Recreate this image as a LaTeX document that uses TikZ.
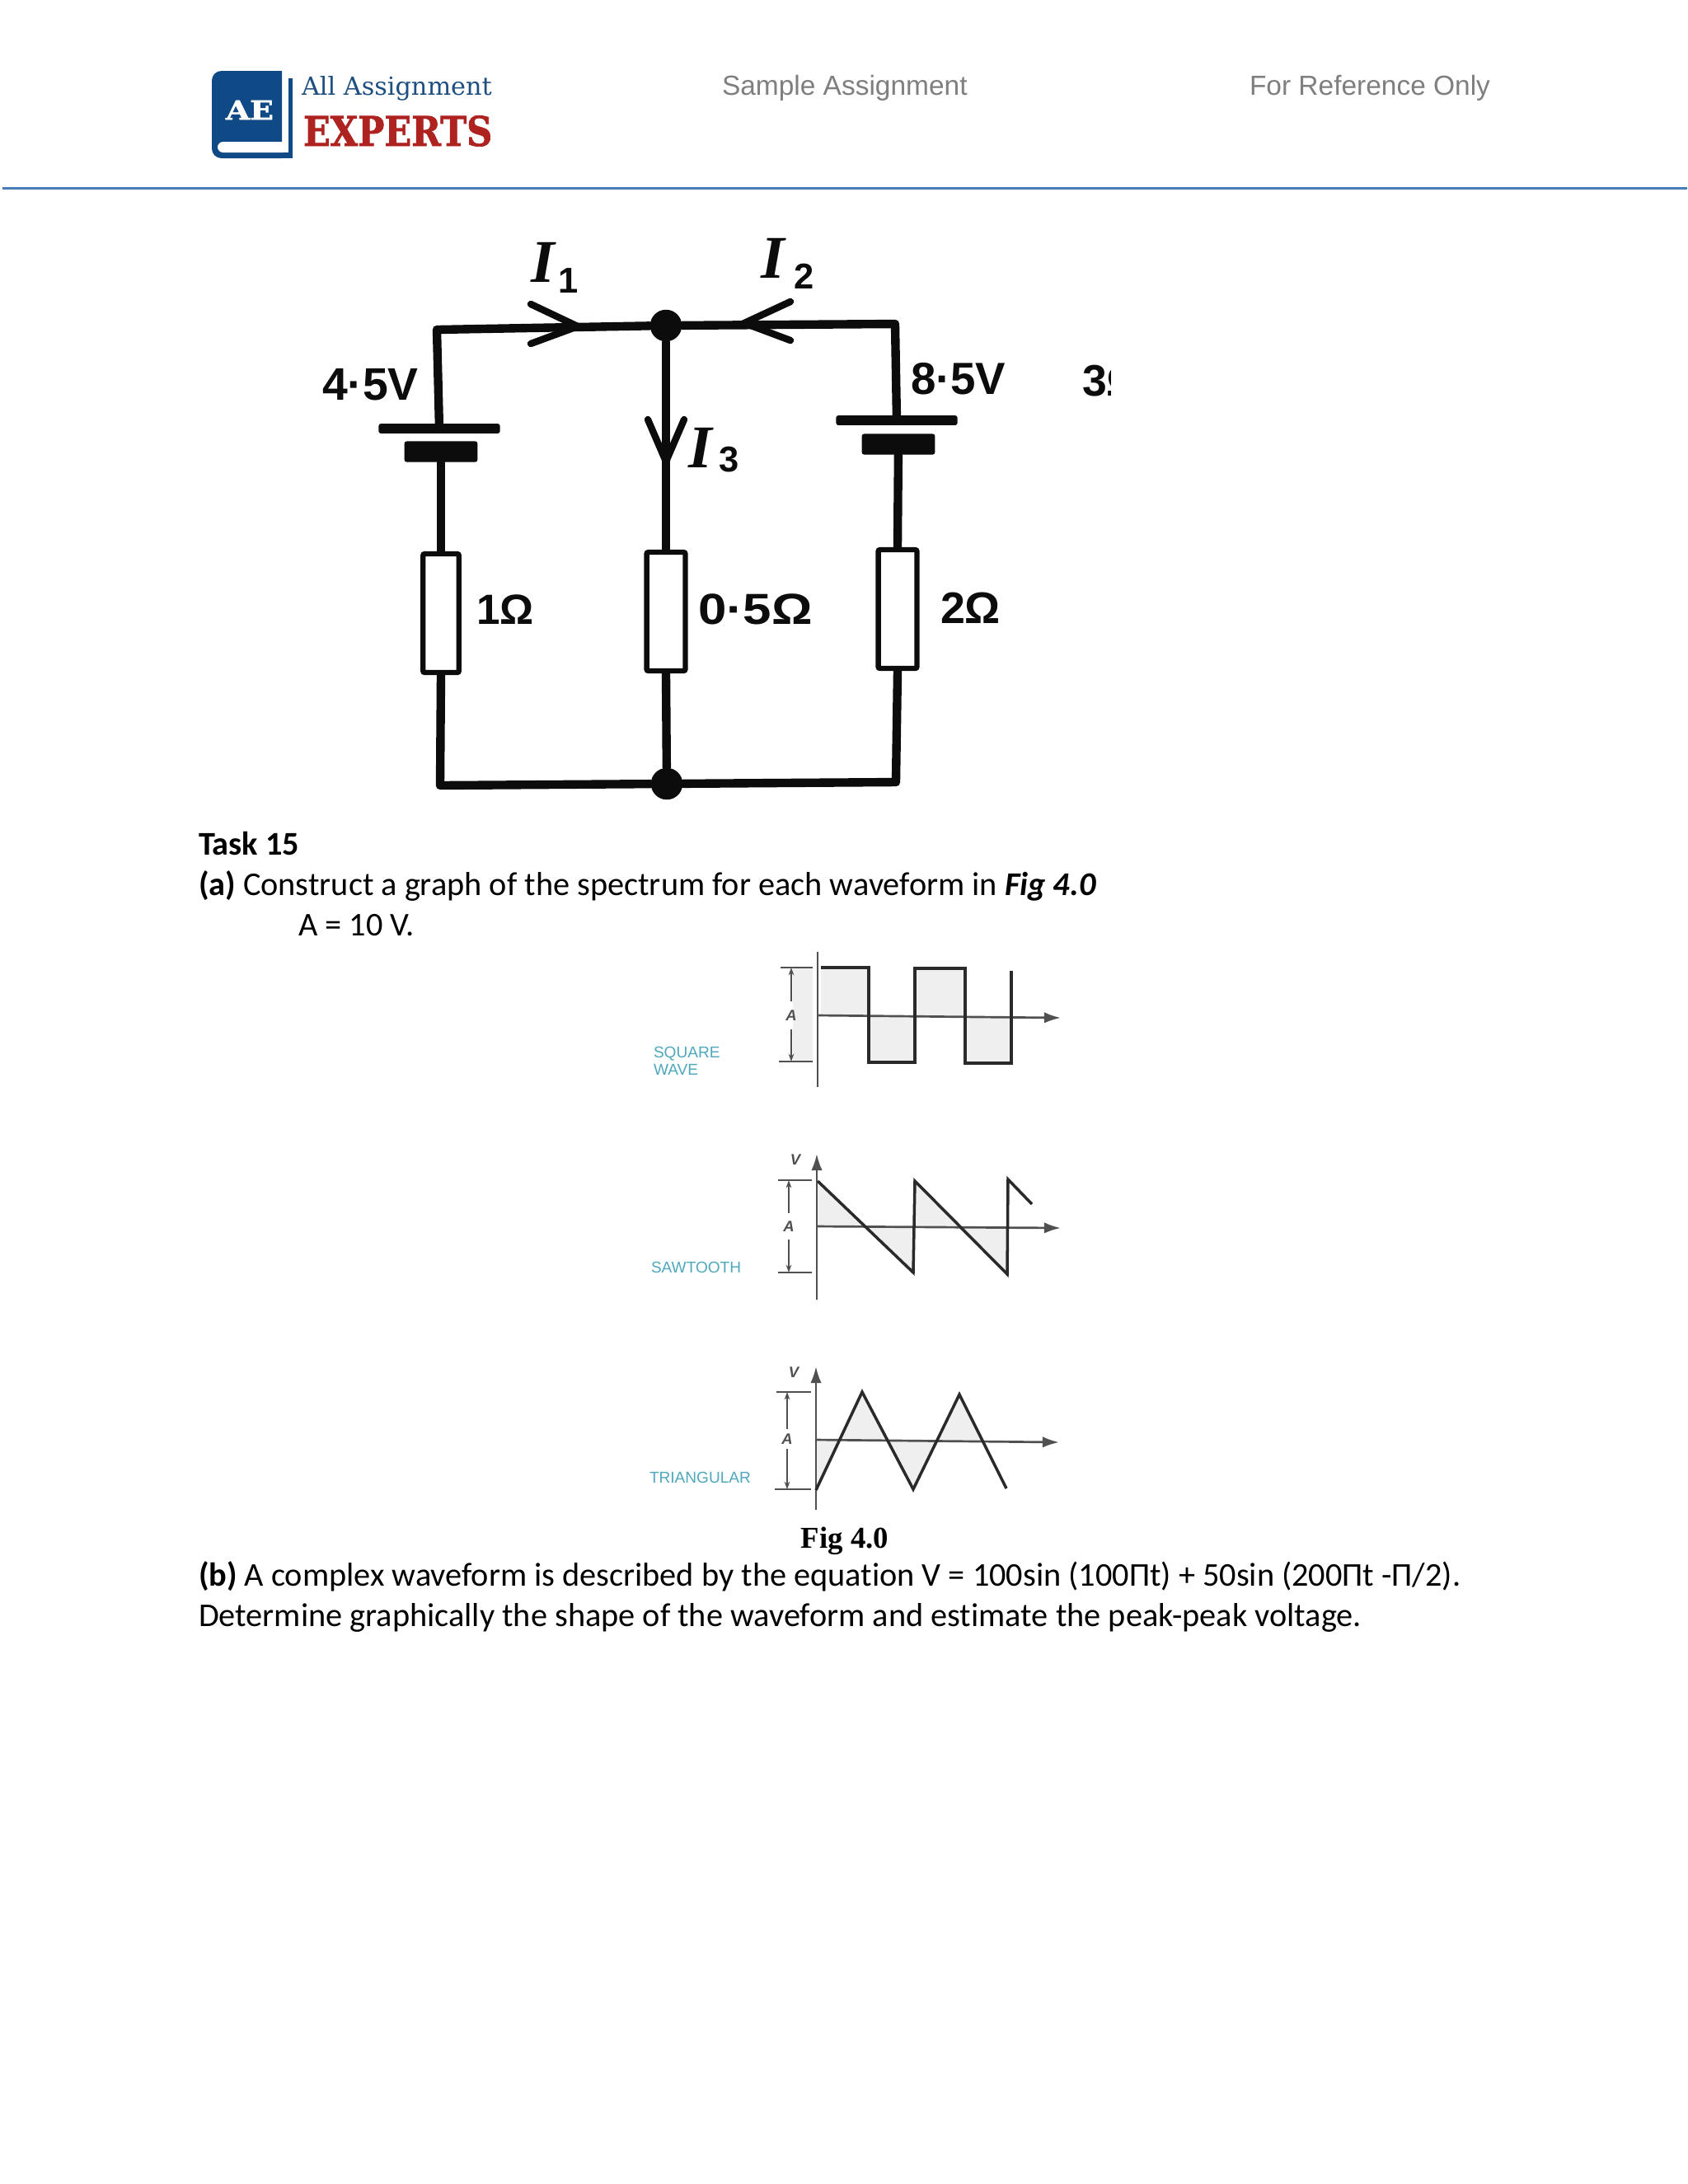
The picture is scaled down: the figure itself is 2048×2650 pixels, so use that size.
\documentclass[tikz,border=0pt]{standalone}
\usepackage{fontspec}
\usepackage{graphicx}
\usetikzlibrary{arrows.meta}
\setmainfont[Ligatures=NoCommon]{Carlito}
\newfontfamily\hdrfont{Liberation Sans}
\newfontfamily\capfont{Liberation Serif}
\newfontfamily\slabfont{DejaVu Serif}
\newfontfamily\heavyslab[BoldFeatures={FakeBold=1.5}]{DejaVu Serif}
\definecolor{rulebl}{HTML}{4A7DB8}
\definecolor{bookbl}{HTML}{0F4A86}
\definecolor{ttlbl}{HTML}{1F4F80}
\definecolor{exred}{HTML}{AE2320}
\definecolor{hdrgr}{HTML}{7F7F7F}
\definecolor{tealtx}{HTML}{4FA8BC}
\definecolor{shade}{HTML}{EFEFEF}
\definecolor{ink}{HTML}{0C0C0C}
\definecolor{axisc}{HTML}{505050}
\definecolor{wavec}{HTML}{2A2A2A}
\tikzset{
  txt/.style={anchor=base west,inner sep=0pt,outer sep=0pt},
  bodytx/.style={txt,text=black,font=\fontsize{12.04}{14}\selectfont},
  hdrtx/.style={txt,text=hdrgr,font=\hdrfont\fontsize{10}{12}\selectfont},
  wire/.style={draw=ink,line width=3.1pt,line join=round,line cap=round},
  dotj/.style={circle,fill=ink,inner sep=0pt,minimum size=11.5pt},
  resbox/.style={draw=ink,fill=white,line width=1.9pt,rectangle,inner sep=0pt,rounded corners=0.6pt},
  plate/.style={fill=ink,rectangle,inner sep=0pt,rounded corners=0.8pt},
  vee/.style={draw=ink,line width=2.5pt,line join=miter,line cap=round},
  cirlab/.style={txt,text=ink,font=\hdrfont\bfseries\fontsize{16}{18}\selectfont},
  curlab/.style={txt,text=ink,font=\capfont\bfseries\itshape\fontsize{22}{24}\selectfont},
  wavelab/.style={txt,text=tealtx,font=\hdrfont\fontsize{5.7}{7}\selectfont},
  dimlab/.style={inner sep=0pt,text=axisc,font=\hdrfont\bfseries\itshape\fontsize{5.5}{6}\selectfont},
  axisl/.style={draw=axisc,line width=0.8pt},
  axisv/.style={axisl,-{Latex[length=6pt,width=4pt]}},
  dimarr/.style={draw=axisc,line width=0.5pt,-{Stealth[length=2.8pt,width=2pt]}},
  ticl/.style={draw=axisc,line width=0.55pt},
  wavel/.style={draw=wavec,line width=1.05pt,line join=miter},
  shd/.style={fill=shade,draw=none}
}
\newcommand{\subd}[3]{\raisebox{#1}{\hdrfont\bfseries\upshape\fontsize{13}{14}\selectfont\hspace{#2}#3}}
\begin{document}
\begin{tikzpicture}[x=0.2988pt,y=-0.2988pt]
\useasboundingbox (0,0) rectangle (2048,2650);
\fill[white] (0,0) rectangle (2048,2650);

% ---------- header
\fill[bookbl,rounded corners=3.5pt] (342,192) -- (257,192) -- (257,86) [sharp corners] -- (342,86) -- cycle;
\fill[bookbl] (300,185) rectangle (355,192);
\fill[bookbl] (350,95) rectangle (355,192);
\fill[white,rounded corners=2pt] (350,172) -- (264,172) -- (264,185) -- (350,185) -- cycle;
\node[txt,text=white,font=\heavyslab\bfseries] (ae) at (274,145) {\resizebox{17.3pt}{6.9pt}{AE}};
\node[txt,text=ttlbl,font=\slabfont] (allas) at (366,115) {\resizebox{69pt}{!}{All Assignment}};
\node[txt,text=exred,font=\heavyslab\bfseries] (exp) at (368,177) {\resizebox{68.5pt}{11pt}{EXPERTS}};
\node[hdrtx] (samp) at (876,115) {Sample Assignment};
\node[hdrtx] (refo) at (1516,115) {For Reference Only};
\coordinate (rl) at (3,228);
\coordinate (rr) at (2047,228);
\draw[rulebl,line width=0.9pt] (rl) -- (rr);

% ---------- circuit
\coordinate (tl) at (530,400);
\coordinate (tr) at (1086,393);
\coordinate (bl) at (534,953);
\coordinate (br) at (1087,949);
\node[dotj] (jt) at (808,395) {};
\node[dotj] (jb) at (809,951) {};
\node[resbox,minimum width=13pt,minimum height=43pt] (r1) at (535,744) {};
\node[resbox,minimum width=14pt,minimum height=43pt] (r2) at (808,742) {};
\node[resbox,minimum width=14pt,minimum height=43pt] (r3) at (1089,739) {};
\node[plate,minimum width=44pt,minimum height=3.5pt] (b1a) at (533,520) {};
\node[plate,minimum width=26.5pt,minimum height=7.5pt] (b1b) at (535,548) {};
\node[plate,minimum width=44pt,minimum height=3.5pt] (b3a) at (1088,510) {};
\node[plate,minimum width=26.5pt,minimum height=7.5pt] (b3b) at (1090,539) {};
\draw[wire] (b1a) -- (tl) -- (jt);
\draw[wire] (jt) -- (tr) -- (b3a);
\draw[wire] (jt) -- (r2.north);
\draw[wire] (r2.south) -- (jb);
\draw[wire] (b1b) -- (r1.north);
\draw[wire] (r1.south) -- (bl) -- (jb);
\draw[wire] (b3b) -- (r3.north);
\draw[wire] (r3.south) -- (br) -- (jb);
\coordinate (a1) at (644,369); \coordinate (a1t) at (701,396); \coordinate (a1b) at (644,417);
\coordinate (a2) at (959,366); \coordinate (a2t) at (903,392); \coordinate (a2b) at (959,413);
\coordinate (a3) at (786,509); \coordinate (a3t) at (808,560); \coordinate (a3b) at (830,509);
\draw[vee] (a1) -- (a1t) -- (a1b);
\draw[vee] (a2) -- (a2t) -- (a2b);
\draw[vee] (a3) -- (a3t) -- (a3b);
\node[curlab] (i1) at (644,342) {I\subd{-4pt}{1.5pt}{1}};
\node[curlab] (i2) at (923,337) {I\subd{-4pt}{3.5pt}{2}};
\node[curlab] (i3) at (835,567) {I\subd{-1.5pt}{2.5pt}{3}};
\node[cirlab] (v1) at (391,485) {\resizebox{34.9pt}{!}{4·5V}};
\node[cirlab] (v2) at (1105,478) {\resizebox{34.5pt}{!}{8·5V}};
\begin{scope}
\clip (1300,430) rectangle (1347,500);
\node[cirlab] (v3) at (1313,480) {3Ω};
\end{scope}
\node[cirlab] (o1) at (578,757) {\resizebox{20.8pt}{!}{1Ω}};
\node[cirlab] (o2) at (847,757) {\resizebox{41.5pt}{11pt}{0·5Ω}};
\node[cirlab] (o3) at (1141,756) {\resizebox{21.8pt}{!}{2Ω}};

% ---------- task text
\node[bodytx,font=\bfseries\fontsize{12.04}{14}\selectfont] (t15) at (241,1037) {Task 15};
\node[bodytx] (ta) at (241,1086) {\textbf{(a)} Construct a graph of the spectrum for each waveform in \textbf{\textit{Fig 4.0}}};
\node[bodytx] (tv) at (362,1135) {A = 10 V.};
\node[txt,anchor=base,font=\capfont\bfseries\fontsize{11}{13}\selectfont] (fig) at (1025,1878) {Fig 4.0};
\node[bodytx] (tb) at (241,1924) {\textbf{(b)} A complex waveform is described by the equation V = 100sin (100Πt) + 50sin (200Πt -Π/2).};
\node[bodytx] (td) at (241,1973) {Determine graphically the shape of the waveform and estimate the peak-peak voltage.};

% ---------- square wave
\fill[shd] (962,1174) rectangle (986,1289);
\fill[shd] (996,1174) rectangle (1054,1232);
\fill[shd] (1054,1234) rectangle (1110,1289);
\fill[shd] (1110,1175) rectangle (1171,1234);
\fill[shd] (1171,1235) rectangle (1227,1290);
\coordinate (s1) at (992,1155); \coordinate (s2) at (992,1319);
\coordinate (s3) at (992,1232); \coordinate (s4) at (1287,1235);
\draw[axisl] (s1) -- (s2);
\draw[axisv] (s3) -- (s4);
\coordinate (w1) at (996,1174);\coordinate (w2) at (1054,1174);\coordinate (w3) at (1054,1289);
\coordinate (w4) at (1110,1289);\coordinate (w5) at (1110,1175);\coordinate (w6) at (1171,1175);
\coordinate (w7) at (1171,1290);\coordinate (w8) at (1227,1290);\coordinate (w9) at (1227,1178);
\draw[wavel,line width=1.25pt] (w1) -- (w2) -- (w3) -- (w4) -- (w5) -- (w6) -- (w7) -- (w8) -- (w9);
\coordinate (sa) at (947,1174); \coordinate (sb) at (986,1174); \coordinate (sc) at (945,1288); \coordinate (sd) at (986,1288);
\coordinate (se) at (960,1174); \coordinate (sf) at (960,1288);
\draw[ticl] (sa) -- (sb); \draw[ticl] (sc) -- (sd);
\node[dimlab,minimum height=9.5pt] (sA) at (960,1232) {A};
\draw[dimarr] (sA.north) -- (se);
\draw[dimarr] (sA.south) -- (sf);
\node[wavelab] (sq1) at (793,1283) {SQUARE};
\node[wavelab] (sq2) at (793,1304) {WAVE};

% ---------- sawtooth
\fill[shd] (992,1433) -- (1050,1488) -- (992,1488) -- cycle;
\fill[shd] (1050,1489) -- (1108,1544) -- (1108,1489) -- cycle;
\fill[shd] (1110,1433) -- (1163,1489) -- (1110,1489) -- cycle;
\fill[shd] (1163,1489) -- (1222,1546) -- (1222,1489) -- cycle;
\coordinate (t1) at (991,1577); \coordinate (t2) at (991,1400);
\coordinate (t3) at (991,1488); \coordinate (t4) at (1287,1490);
\draw[axisv] (t1) -- (t2);
\draw[axisv] (t3) -- (t4);
\coordinate (x1) at (992,1433);\coordinate (x2) at (1108,1544);\coordinate (x3) at (1110,1433);
\coordinate (x4) at (1222,1546);\coordinate (x5) at (1223,1431);\coordinate (x6) at (1252,1461);
\draw[wavel] (x1) -- (x2) -- (x3) -- (x4) -- (x5) -- (x6);
\coordinate (ta1) at (944,1432); \coordinate (ta2) at (985,1432); \coordinate (ta3) at (944,1544); \coordinate (ta4) at (985,1544);
\coordinate (ta5) at (957,1432); \coordinate (ta6) at (957,1544);
\draw[ticl] (ta1) -- (ta2); \draw[ticl] (ta3) -- (ta4);
\node[dimlab,minimum height=9.3pt] (tA) at (957,1488) {A};
\draw[dimarr] (tA.north) -- (ta5);
\draw[dimarr] (tA.south) -- (ta6);
\node[dimlab] (tV) at (965,1407) {V};
\node[wavelab] (sw) at (790,1544) {SAWTOOTH};

% ---------- triangular
\fill[shd] (990,1748) -- (1019,1748) -- (990,1808) -- cycle;
\fill[shd] (1019,1748) -- (1046,1689) -- (1076,1748) -- cycle;
\fill[shd] (1076,1749) -- (1108,1807) -- (1136,1749) -- cycle;
\fill[shd] (1136,1749) -- (1164,1692) -- (1193,1749) -- cycle;
\coordinate (u1) at (990,1832); \coordinate (u2) at (990,1658);
\coordinate (u3) at (990,1747); \coordinate (u4) at (1285,1750);
\draw[axisv] (u1) -- (u2);
\draw[axisv] (u3) -- (u4);
\coordinate (y1) at (990,1808);\coordinate (y2) at (1046,1689);\coordinate (y3) at (1108,1807);
\coordinate (y4) at (1164,1692);\coordinate (y5) at (1221,1806);
\draw[wavel] (y1) -- (y2) -- (y3) -- (y4) -- (y5);
\coordinate (ua1) at (942,1689); \coordinate (ua2) at (984,1689); \coordinate (ua3) at (940,1807); \coordinate (ua4) at (984,1807);
\coordinate (ua5) at (955,1689); \coordinate (ua6) at (955,1807);
\draw[ticl] (ua1) -- (ua2); \draw[ticl] (ua3) -- (ua4);
\node[dimlab,minimum height=6.9pt] (uA) at (955,1746) {A};
\draw[dimarr] (uA.north) -- (ua5);
\draw[dimarr] (uA.south) -- (ua6);
\node[dimlab] (uV) at (963,1665) {V};
\node[wavelab] (tri) at (788,1799) {TRIANGULAR};
\end{tikzpicture}
\end{document}
